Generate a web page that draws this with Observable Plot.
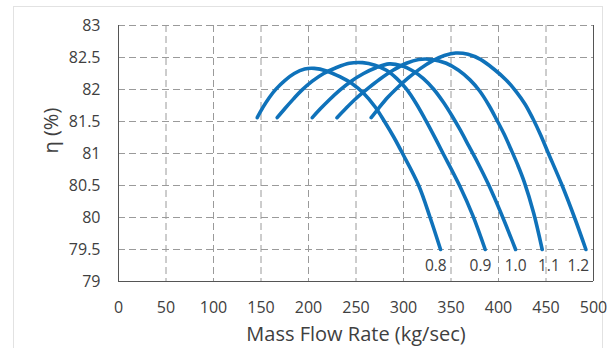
<!DOCTYPE html>
<html>
<head>
<meta charset="utf-8">
<script src="https://cdn.jsdelivr.net/npm/d3@7"></script>
<script src="https://cdn.jsdelivr.net/npm/@observablehq/plot@0.6"></script>
<style>
  html, body { margin: 0; padding: 0; background: #fff; }
  #wrap { position: relative; width: 615px; height: 348px; overflow: hidden; }
  #border { position: absolute; left: 13px; top: 6px; width: 590px; height: 360px; border: 1px solid #e2e2e2; box-sizing: border-box; pointer-events: none; }
  #chart { position: absolute; left: 0; top: 0; }
</style>
</head>
<body>
<div id="wrap"><div id="border"></div><div id="chart"></div></div>
<script>
// Speed lines (relative speed) and read-off points: [mass flow (kg/sec), efficiency (%)]
const speeds = ["0.8", "0.9", "1.0", "1.1", "1.2"];
const curve08 = [[146,81.56],[152,81.72],[159,81.88],[166,82.01],[175,82.14],[185,82.25],[196,82.32],[206,82.33],[219,82.29],[233,82.2],[246,82.09],[258,81.94],[270,81.73],[280,81.5],[290,81.25],[299,81.0],[316,80.5],[328,80.0],[339,79.5]];
const curve09 = [[167,81.56],[175,81.7],[184,81.85],[193,81.99],[204,82.13],[216,82.25],[229,82.34],[243,82.41],[257,82.42],[270,82.38],[282,82.3],[293,82.17],[303,82.01],[313,81.79],[323,81.53],[332,81.28],[341,81.02],[359,80.5],[373,80.03],[386,79.5]];
const curve10 = [[204,81.56],[212,81.69],[222,81.84],[233,81.99],[245,82.13],[258,82.25],[271,82.34],[285,82.4],[298,82.37],[310,82.29],[321,82.17],[332,82.0],[342,81.8],[351,81.59],[360,81.36],[369,81.11],[378,80.86],[389,80.53],[404,80.02],[418,79.5]];
const curve11 = [[230,81.56],[239,81.7],[250,81.86],[262,82.01],[275,82.16],[289,82.3],[303,82.41],[316,82.47],[330,82.47],[345,82.41],[358,82.3],[370,82.15],[380,81.98],[390,81.75],[398,81.53],[406,81.3],[413,81.07],[420,80.83],[427,80.56],[437,80.07],[446,79.5]];
const curve12 = [[266,81.56],[274,81.71],[283,81.87],[293,82.02],[305,82.18],[318,82.33],[331,82.45],[343,82.53],[355,82.57],[368,82.55],[381,82.47],[395,82.32],[408,82.15],[419,81.96],[428,81.77],[436,81.55],[444,81.3],[452,81.02],[467,80.5],[480,80.0],[492,79.5]];
const curves = [curve08, curve09, curve10, curve11, curve12];
// where each speed label sits along the flow axis
const labelFlow = [334, 381, 418, 453, 484];

const xTicks = [0, 50, 100, 150, 200, 250, 300, 350, 400, 450, 500];
const yTicks = [79, 79.5, 80, 80.5, 81, 81.5, 82, 82.5, 83];
const xTitle = "Mass Flow Rate (kg/sec)";
const yTitle = "η (%)";

const rows = curves.flatMap((c, i) => c.map(([x, y]) => ({speed: speeds[i], x, y})));
const labels = speeds.map((s, i) => ({speed: s, x: labelFlow[i], y: curves[i][curves[i].length - 1][1]}));

const blue = "#0f72ba";
const gridColor = "#9a9a9a";
const font = "'Open Sans', sans-serif";

const chart = Plot.plot({
  width: 615,
  height: 348,
  marginLeft: 118,
  marginRight: 22,
  marginTop: 25,
  marginBottom: 67,
  style: {fontFamily: font, background: "transparent", color: "#404040"},
  x: {domain: [0, 500], ticks: xTicks},
  y: {domain: [79, 83], ticks: yTicks},
  marks: [
    Plot.gridX(xTicks.filter(d => d > 0 && d < 500), {stroke: gridColor, strokeOpacity: 1, strokeDasharray: "7,4"}),
    Plot.gridY(yTicks.filter(d => d > 79), {stroke: gridColor, strokeOpacity: 1, strokeDasharray: "7,4"}),
    Plot.ruleX([500], {stroke: "#555"}),
    Plot.ruleX([0], {stroke: "#555"}),
    Plot.ruleY([79], {stroke: "#555"}),
    Plot.line(rows, {x: "x", y: "y", z: "speed", stroke: blue, strokeWidth: 3.6, curve: "catmull-rom"}),
    Plot.text(labels, {x: "x", y: "y", text: "speed", dy: 17, fontSize: 15.5, fill: "#404040", fontFamily: font}),
    Plot.axisX({ticks: xTicks, tickSize: 0, tickPadding: 20, fontSize: 16, label: null, tickFormat: d => String(d)}),
    Plot.axisY({ticks: yTicks, tickSize: 0, tickPadding: 18, fontSize: 16, label: null, tickFormat: d => String(d)}),
    Plot.text([xTitle], {frameAnchor: "bottom", dy: 59, fontSize: 20, fill: "#404040", fontFamily: font}),
    Plot.text([yTitle], {frameAnchor: "left", dx: -67, rotate: -90, fontSize: 20, fill: "#404040", fontFamily: font})
  ]
});
document.getElementById("chart").appendChild(chart);
</script>
</body>
</html>
